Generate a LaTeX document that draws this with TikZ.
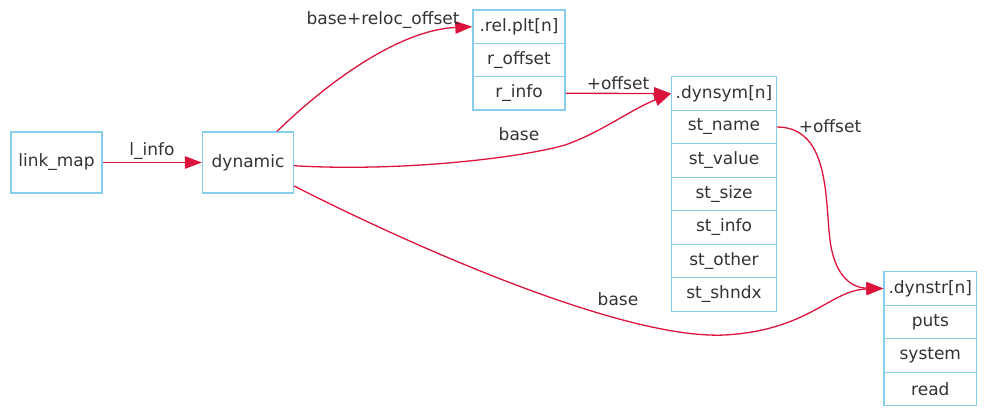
\documentclass[tikz,border=0pt]{standalone}
\usepackage{fontspec}
\setmainfont{DejaVu Sans}
\usetikzlibrary{arrows.meta}
\definecolor{boxc}{HTML}{87CEEB}
\definecolor{edgec}{HTML}{DC143C}
\definecolor{txt}{HTML}{333333}
\begin{document}
\begin{tikzpicture}[x=1pt,y=-1pt,
  font=\fontsize{17}{20}\selectfont, text=txt,
  cell/.style={draw=boxc, line width=1.4pt, inner sep=0pt, minimum height=33.5, anchor=center},
  bigbox/.style={draw=boxc, line width=1.4pt, inner sep=0pt, minimum width=91, minimum height=61},
  link/.style={draw=edgec, line width=1.3pt, -{Triangle[length=17pt,width=12.5pt]}},
  lab/.style={inner sep=0pt}]
\useasboundingbox (0,0) rectangle (991,412);
\node[bigbox] (lm) at (56.5,162.5) {link\_map};
\node[bigbox] (dyn) at (248,162.5) {dynamic};
% .rel.plt
\node[cell, minimum width=92, minimum height=33.3] (rp0) at (519,26.7) {.rel.plt[n]};
\node[cell, minimum width=92, minimum height=33.3] (rp1) at (519,60) {r\_offset};
\node[cell, minimum width=92, minimum height=33.3] (rp2) at (519,93.3) {r\_info};
% .dynsym
\node[cell, minimum width=104.5] (ds0) at (724,93.5) {.dynsym[n]};
\node[cell, minimum width=104.5] (ds1) at (724,127) {st\_name};
\node[cell, minimum width=104.5] (ds2) at (724,160.5) {st\_value};
\node[cell, minimum width=104.5] (ds3) at (724,194) {st\_size};
\node[cell, minimum width=104.5] (ds4) at (724,227.5) {st\_info};
\node[cell, minimum width=104.5] (ds5) at (724,261) {st\_other};
\node[cell, minimum width=104.5] (ds6) at (724,294.5) {st\_shndx};
% .dynstr
\node[cell, minimum width=92.5] (dr0) at (930.3,288.5) {.dynstr[n]};
\node[cell, minimum width=92.5] (dr1) at (930.3,322) {puts};
\node[cell, minimum width=92.5] (dr2) at (930.3,355.5) {system};
\node[cell, minimum width=92.5] (dr3) at (930.3,389) {read};
% edges
\draw[link] (lm.east) -- (dyn.west);
\draw[link] (dyn.47) .. controls (330,80) and (400,30) .. (rp0.west);
\draw[link] (rp2.east) -- (ds0.west);
\draw[link] (dyn.-4) .. controls (400,172) and (520,158) .. (565,145)
  .. controls (600,133) and (630,110) .. (ds0.west);
\draw[link] (ds1.east) .. controls (830,127) and (825,200) .. (830,240)
  .. controls (835,280) and (855,288) .. (dr0.west);
\draw[link] (dyn.-27) .. controls (400,240) and (620,340) .. (725,335)
  .. controls (810,330) and (830,290) .. (dr0.west);
% labels
\node[lab] (l1) at (152,151) {l\_info};
\node[lab] (l2) at (383,20) {base+reloc\_offset};
\node[lab] (l3) at (519,134) {base};
\node[lab] (l4) at (618,83) {+offset};
\node[lab] (l5) at (830,126) {+offset};
\node[lab] (l6) at (618,299) {base};
\end{tikzpicture}
\end{document}
